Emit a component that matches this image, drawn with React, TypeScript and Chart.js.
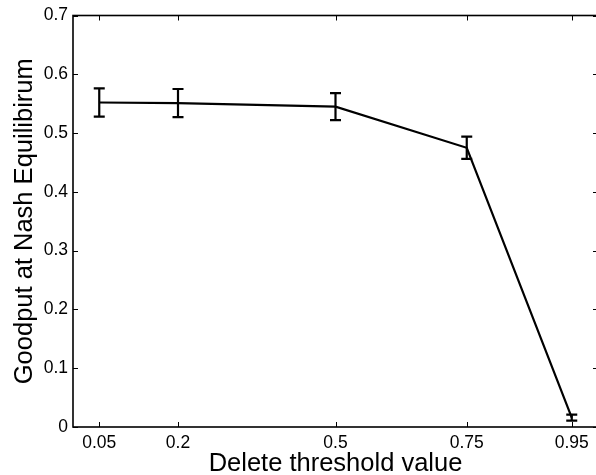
import React, { useEffect, useRef } from 'react';
import { Chart, registerables } from 'chart.js';
Chart.register(...registerables);

const thresholds = [0.05, 0.2, 0.5, 0.75, 0.95];
const goodput = [0.552, 0.551, 0.545, 0.475, 0.016];
const errorHalf = [0.024, 0.024, 0.023, 0.019, 0.005];
const xTicks = [0.05, 0.2, 0.5, 0.75, 0.95];
const yTicks = [0, 0.1, 0.2, 0.3, 0.4, 0.5, 0.6, 0.7];
const xTitle = 'Delete threshold value';
const yTitle = 'Goodput at Nash Equilibirum';

const FONT = '"Liberation Sans", Arial, Helvetica, sans-serif';

const errorBarPlugin = {
  id: 'errorBars',
  afterDatasetsDraw(chart: any) {
    const { ctx, scales } = chart;
    const xs = scales.x;
    const ys = scales.y;
    ctx.save();
    ctx.strokeStyle = '#000';
    ctx.lineWidth = 2.2;
    thresholds.forEach((xv, i) => {
      const px = xs.getPixelForValue(xv);
      const top = ys.getPixelForValue(goodput[i] + errorHalf[i]);
      const bot = ys.getPixelForValue(goodput[i] - errorHalf[i]);
      ctx.beginPath();
      ctx.moveTo(px, top);
      ctx.lineTo(px, bot);
      ctx.moveTo(px - 5.5, top);
      ctx.lineTo(px + 5.5, top);
      ctx.moveTo(px - 5.5, bot);
      ctx.lineTo(px + 5.5, bot);
      ctx.stroke();
    });
    ctx.restore();
  },
};

const framePlugin = {
  id: 'frame',
  afterDraw(chart: any) {
    const { ctx, chartArea, scales } = chart;
    const { left, right, top, bottom } = chartArea;
    ctx.save();
    ctx.strokeStyle = '#000';
    ctx.lineWidth = 1.6;
    ctx.strokeRect(left, top, right - left, bottom - top);
    ctx.lineWidth = 1;
    const len = 5;
    ctx.beginPath();
    xTicks.forEach((v) => {
      const px = Math.round(scales.x.getPixelForValue(v)) + 0.5;
      ctx.moveTo(px, bottom);
      ctx.lineTo(px, bottom - len);
      ctx.moveTo(px, top);
      ctx.lineTo(px, top + len);
    });
    yTicks.forEach((v) => {
      const py = Math.round(scales.y.getPixelForValue(v)) + 0.5;
      ctx.moveTo(left, py);
      ctx.lineTo(left + len, py);
      ctx.moveTo(right, py);
      ctx.lineTo(right - len, py);
    });
    ctx.stroke();
    ctx.restore();
  },
};

export default function App() {
  const ref = useRef<HTMLCanvasElement | null>(null);
  useEffect(() => {
    if (!ref.current) return;
    const chart = new Chart(ref.current, {
      type: 'line',
      data: {
        datasets: [
          {
            data: thresholds.map((x, i) => ({ x, y: goodput[i] })),
            borderColor: '#000',
            borderWidth: 2.2,
            pointRadius: 0,
            tension: 0,
            fill: false,
          },
        ],
      },
      options: {
        animation: false,
        responsive: false,
        maintainAspectRatio: false,
        layout: { padding: { top: 13, right: 2, left: 0, bottom: 0 } },
        plugins: { legend: { display: false }, tooltip: { enabled: false } },
        scales: {
          x: {
            type: 'linear',
            min: 0,
            max: 1,
            grid: { display: false, drawTicks: false },
            border: { display: false },
            afterBuildTicks: (s: any) => {
              s.ticks = xTicks.map((v) => ({ value: v }));
            },
            afterFit: (s: any) => {
              s.height = 48;
            },
            ticks: {
              padding: 6,
              color: '#000',
              maxRotation: 0,
              autoSkip: false,
              font: { family: FONT, size: 17.5 },
              callback: (v: any) => String(v),
            },
            title: {
              display: true,
              text: xTitle,
              color: '#000',
              padding: 0,
              font: { family: FONT, size: 25.5, lineHeight: 0.85 },
            },
          },
          y: {
            min: 0,
            max: 0.7,
            grid: { display: false, drawTicks: false },
            border: { display: false },
            afterBuildTicks: (s: any) => {
              s.ticks = yTicks.map((v) => ({ value: v }));
            },
            afterFit: (s: any) => {
              s.width = 73;
            },
            ticks: {
              padding: 5,
              color: '#000',
              autoSkip: false,
              font: { family: FONT, size: 17.5 },
              callback: (v: any) => String(v),
            },
            title: {
              display: true,
              text: yTitle,
              color: '#000',
              padding: { top: 10, bottom: 0 },
              font: { family: FONT, size: 25.5, lineHeight: 1.2 },
            },
          },
        },
      },
      plugins: [errorBarPlugin, framePlugin],
    } as any);
    return () => chart.destroy();
  }, []);

  return (
    <div
      style={{
        position: 'fixed',
        left: 0,
        top: 0,
        width: 596,
        height: 475,
        overflow: 'hidden',
        background: '#fff',
      }}
    >
      <canvas ref={ref} width={600} height={475} style={{ display: 'block' }} />
    </div>
  );
}
